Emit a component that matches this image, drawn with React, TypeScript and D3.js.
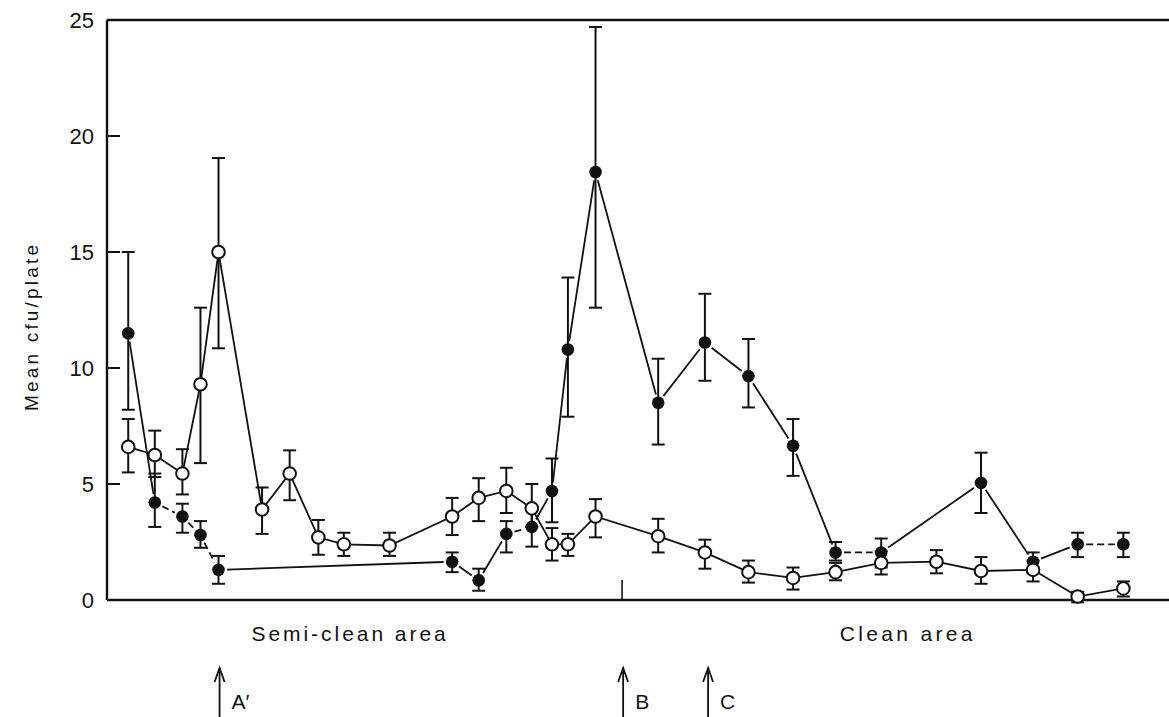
import React from "react";
import * as d3 from "d3";

// Sampling positions along the route (arbitrary distance units, 0–100)
const sites = [2.0, 4.5, 7.1, 8.8, 10.5, 14.6, 17.2, 19.9, 22.3, 26.6, 32.5, 35.0, 37.6, 40.0, 41.9, 43.4, 46.0, 51.9, 56.3, 60.4, 64.6, 68.6, 72.9, 78.1, 82.3, 87.2, 91.4, 95.7];

// Closed circles: mean cfu/plate with lower/upper error limits (null = not sampled)
const closedMean = [11.5, 4.2, 3.6, 2.8, 1.3, null, null, null, null, null, 1.65, 0.85, 2.85, 3.15, 4.7, 10.8, 18.45, 8.5, 11.1, 9.65, 6.65, 2.05, 2.05, null, 5.05, 1.65, 2.4, 2.4];
const closedLow = [8.2, 3.15, 2.9, 2.25, 0.7, null, null, null, null, null, 1.2, 0.4, 2.05, 2.3, 3.35, 7.9, 12.6, 6.7, 9.45, 8.3, 5.35, 1.7, 1.4, null, 3.75, 1.2, 1.85, 1.85];
const closedHigh = [15.0, 5.45, 4.15, 3.4, 1.9, null, null, null, null, null, 2.05, 1.35, 3.4, 3.9, 6.1, 13.9, 24.7, 10.4, 13.2, 11.25, 7.8, 2.5, 2.65, null, 6.35, 2.05, 2.9, 2.9];

// Open circles
const openMean = [6.6, 6.25, 5.45, 9.3, 15.0, 3.9, 5.45, 2.7, 2.4, 2.35, 3.6, 4.4, 4.7, 3.95, 2.4, 2.4, 3.6, 2.75, 2.05, 1.2, 0.95, 1.2, 1.6, 1.65, 1.25, 1.3, 0.15, 0.5];
const openLow = [5.5, 5.3, 4.55, 5.9, 10.85, 2.85, 4.3, 1.95, 1.9, 1.9, 2.8, 3.4, 3.75, 3.15, 1.7, 1.9, 2.7, 2.05, 1.35, 0.75, 0.45, 0.85, 1.1, 1.15, 0.7, 0.8, -0.1, 0.15];
const openHigh = [7.8, 7.3, 6.5, 12.6, 19.05, 4.85, 6.45, 3.45, 2.9, 2.9, 4.4, 5.25, 5.7, 5.0, 3.1, 2.85, 4.35, 3.5, 2.6, 1.7, 1.4, 1.6, 2.1, 2.15, 1.85, 1.7, 0.35, 0.8];

// Closed-circle links drawn dashed (index of the starting site)
const closedDashedFrom = [1, 2, 3, 12, 21, 26];

const yTicks = [0, 5, 10, 15, 20, 25];

const areaLabels = [
  { text: "Semi-clean area", from: 13.6, to: 31.9 },
  { text: "Clean area", from: 69.0, to: 81.5 },
];

const arrows = [
  { label: "A\u2032", pos: 10.6 },
  { label: "B", pos: 48.6 },
  { label: "C", pos: 56.6 },
];

const bMark = 48.5;

const W = 1169;
const H = 717;
const font = "'Liberation Sans', Arial, sans-serif";

export default function App() {
  const x = d3.scaleLinear().domain([0, 100]).range([107, 1169]);
  const y = d3.scaleLinear().domain([0, 25]).range([600, 20]);

  const closedPts = sites
    .map((s, i) => ({ i, s, m: closedMean[i], lo: closedLow[i], hi: closedHigh[i] }))
    .filter((d) => d.m !== null) as { i: number; s: number; m: number; lo: number; hi: number }[];
  const openPts = sites.map((s, i) => ({ i, s, m: openMean[i], lo: openLow[i], hi: openHigh[i] }));

  const openLine = d3
    .line<{ s: number; m: number }>()
    .x((d) => x(d.s))
    .y((d) => y(d.m));

  // Closed series links stop short of the markers
  const gap = 8.5;
  const closedLinks = closedPts.slice(0, -1).map((p, k) => {
    const q = closedPts[k + 1];
    const x1 = x(p.s), y1 = y(p.m), x2 = x(q.s), y2 = y(q.m);
    const len = Math.hypot(x2 - x1, y2 - y1);
    const ux = (x2 - x1) / len, uy = (y2 - y1) / len;
    return {
      key: p.i,
      x1: x1 + ux * gap,
      y1: y1 + uy * gap,
      x2: x2 - ux * gap,
      y2: y2 - uy * gap,
      dashed: closedDashedFrom.includes(p.i),
    };
  });

  const cap = 6.5;
  const errorBar = (d: { i: number; s: number; lo: number; hi: number }, key: string) => (
    <g key={key} stroke="#111" strokeWidth={2}>
      <line x1={x(d.s)} x2={x(d.s)} y1={y(d.lo)} y2={y(d.hi)} />
      <line x1={x(d.s) - cap} x2={x(d.s) + cap} y1={y(d.lo)} y2={y(d.lo)} />
      <line x1={x(d.s) - cap} x2={x(d.s) + cap} y1={y(d.hi)} y2={y(d.hi)} />
    </g>
  );

  return (
    <svg
      width={W}
      height={H}
      style={{ position: "absolute", left: 0, top: 0, background: "#fff" }}
      fontFamily={font}
    >
      <rect x={0} y={0} width={W} height={H} fill="#fff" />

      {/* frame */}
      <g stroke="#111" strokeWidth={2.4} fill="none">
        <line x1={x(0)} x2={x(0)} y1={y(0)} y2={y(25)} />
        <line x1={x(0)} x2={W} y1={y(25)} y2={y(25)} />
        <line x1={x(0)} x2={W} y1={y(0)} y2={y(0)} />
        {yTicks
          .filter((t) => t > 0 && t < 25)
          .map((t) => (
            <line key={t} x1={x(0)} x2={x(0) + 13} y1={y(t)} y2={y(t)} strokeWidth={2} />
          ))}
        <line x1={x(bMark)} x2={x(bMark)} y1={y(0)} y2={y(0) - 20} strokeWidth={1.6} />
      </g>

      {/* y tick labels */}
      {yTicks.map((t) => (
        <text key={t} x={94} y={y(t) + 8} textAnchor="end" fontSize={22} fill="#111">
          {t}
        </text>
      ))}

      <text
        transform={`translate(38, 328) rotate(-90)`}
        textAnchor="middle"
        fontSize={19}
        fill="#111"
        textLength={166}
        lengthAdjust="spacing"
      >
        Mean cfu/plate
      </text>

      {/* open series line */}
      <path d={openLine(openPts) || ""} fill="none" stroke="#111" strokeWidth={1.8} />

      {/* closed series links */}
      <g stroke="#111" strokeWidth={1.8}>
        {closedLinks.map((l) => (
          <line
            key={l.key}
            x1={l.x1}
            y1={l.y1}
            x2={l.x2}
            y2={l.y2}
            strokeDasharray={l.dashed ? "7 4" : undefined}
          />
        ))}
      </g>

      {/* error bars */}
      {closedPts.map((d) => errorBar(d, `ce${d.i}`))}
      {openPts.map((d) => errorBar(d, `oe${d.i}`))}

      {/* markers */}
      {closedPts.map((d) => (
        <circle key={`c${d.i}`} cx={x(d.s)} cy={y(d.m)} r={6.3} fill="#111" />
      ))}
      {openPts.map((d) => (
        <circle
          key={`o${d.i}`}
          cx={x(d.s)}
          cy={y(d.m)}
          r={6.3}
          fill="#fff"
          stroke="#111"
          strokeWidth={2}
        />
      ))}

      {/* area labels */}
      {areaLabels.map((a) => (
        <text
          key={a.text}
          x={x(a.from)}
          y={641}
          fontSize={21}
          fill="#111"
          textLength={x(a.to) - x(a.from)}
          lengthAdjust="spacing"
        >
          {a.text}
        </text>
      ))}

      {/* event arrows */}
      {arrows.map((a) => (
        <g key={a.label}>
          <line x1={x(a.pos)} x2={x(a.pos)} y1={717} y2={668} stroke="#111" strokeWidth={1.8} />
          <path
            d={`M${x(a.pos) - 5},${682} L${x(a.pos)},${668} L${x(a.pos) + 5},${682}`}
            fill="none"
            stroke="#111"
            strokeWidth={1.8}
          />
          <text x={x(a.pos) + 12} y={709} fontSize={21} fill="#111">
            {a.label}
          </text>
        </g>
      ))}
    </svg>
  );
}
